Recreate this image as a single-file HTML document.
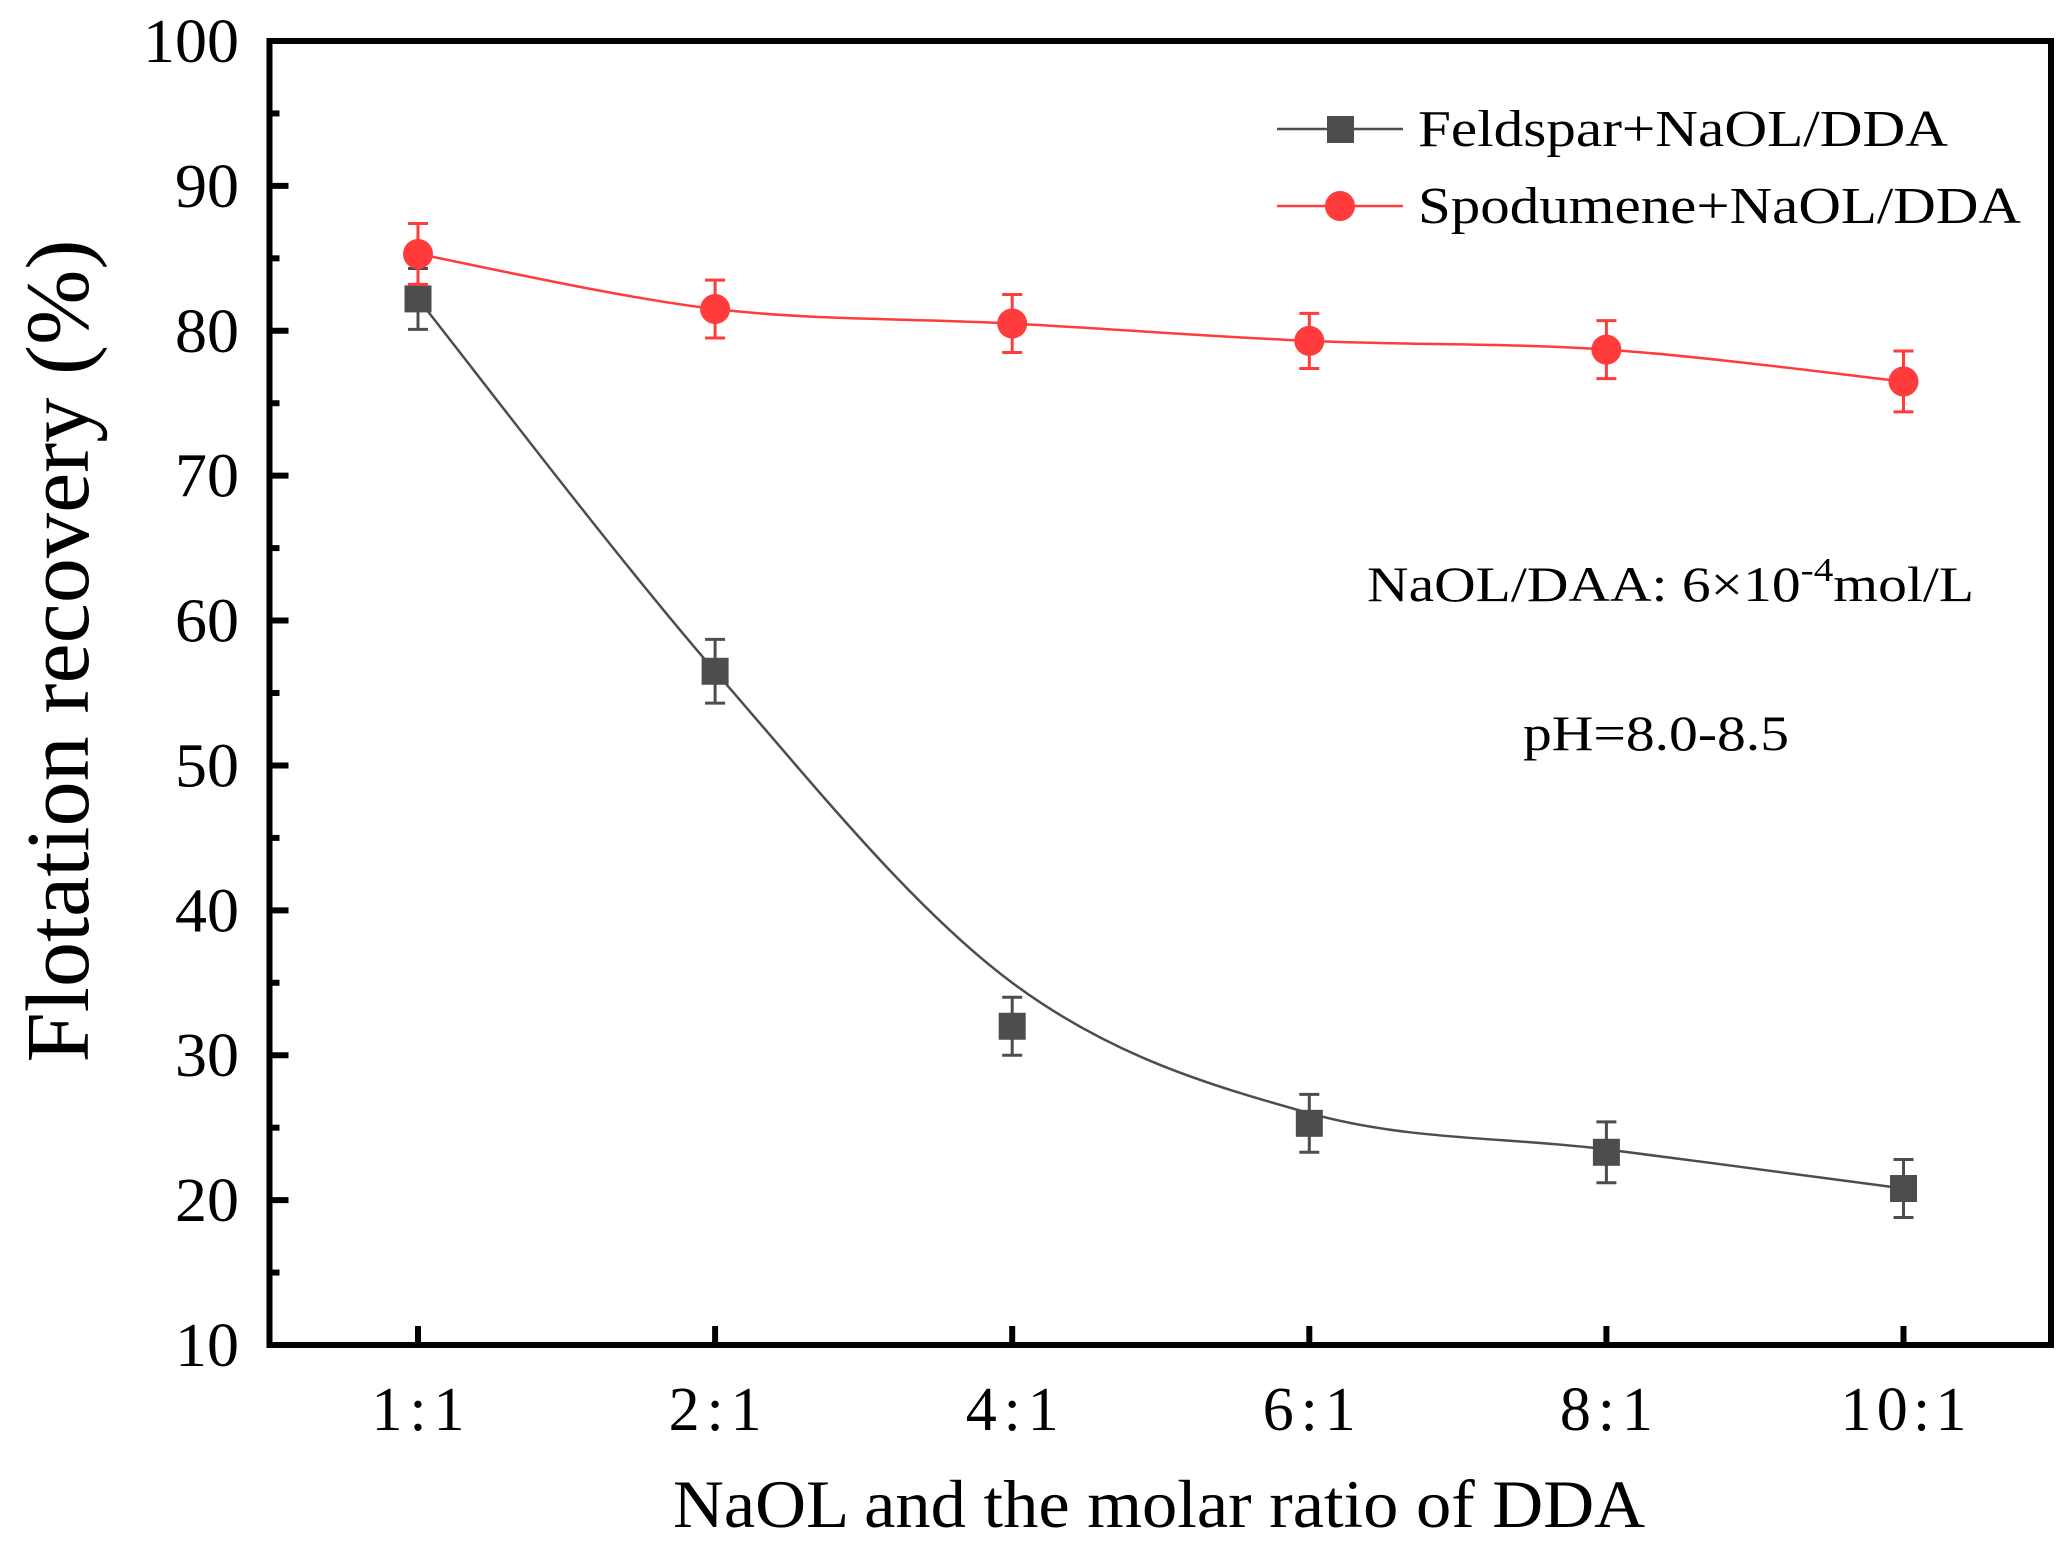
<!DOCTYPE html>
<html><head><meta charset="utf-8"><style>
html,body{margin:0;padding:0;background:#fff}
svg{display:block}
text{font-family:"Liberation Serif",serif;fill:#000}
</style></head><body>
<svg id="chart" width="2071" height="1561" viewBox="0 0 2071 1561" xmlns="http://www.w3.org/2000/svg">
<g id="axes"></g>
<g id="series"></g>
<g>
  <line x1="1277" y1="129" x2="1403" y2="129" stroke="#4d4d4d" stroke-width="2.5"/>
  <rect x="1327" y="116" width="27" height="27" fill="#4d4d4d"/>
  <text x="1418" y="146" font-size="52" textLength="530" lengthAdjust="spacingAndGlyphs">Feldspar+NaOL/DDA</text>
  <line x1="1277" y1="206" x2="1403" y2="206" stroke="#ff3b3b" stroke-width="2.5"/>
  <circle cx="1340" cy="206" r="15" fill="#ff3b3b"/>
  <text x="1418" y="223" font-size="52" textLength="603" lengthAdjust="spacingAndGlyphs">Spodumene+NaOL/DDA</text>
</g>
<text x="1367" y="601" font-size="50" textLength="607" lengthAdjust="spacingAndGlyphs">NaOL/DAA: 6×10<tspan dy="-20" font-size="34">-4</tspan><tspan dy="20">mol/L</tspan></text>
<text x="1523" y="750" font-size="50" textLength="266" lengthAdjust="spacingAndGlyphs">pH=8.0-8.5</text>
<text x="1159" y="1527" font-size="68" text-anchor="middle" textLength="972" lengthAdjust="spacingAndGlyphs">NaOL and the molar ratio of DDA</text>
<text transform="translate(88,651) rotate(-90)" font-size="90" text-anchor="middle" textLength="823" lengthAdjust="spacingAndGlyphs">Flotation recovery (%)</text>
</svg>
<script>
const categories = ["1:1","2:1","4:1","6:1","8:1","10:1"];
const feldsparValues = [82.2, 56.5, 32.0, 25.3, 23.3, 20.8];
const feldsparErrors = [2.1, 2.2, 2.0, 2.0, 2.1, 2.0];
const feldsparFit = [82.2, 56.5, 35.0, 26.0, 23.5, 20.8];
const spodumeneValues = [85.3, 81.5, 80.5, 79.3, 78.7, 76.5];
const spodumeneErrors = [2.1, 2.0, 2.0, 1.9, 2.0, 2.1];
const yTicks = [10,20,30,40,50,60,70,80,90,100];
const yTickLabels = ["10","20","30","40","50","60","70","80","90","100"];

const NS="http://www.w3.org/2000/svg";
const L=269.5,R=2051,T=41,B=1345;
const x0=418, dx=297.1;
function xPos(i){return x0+i*dx;}
function yPos(v){return B-(v-10)/90*(B-T);}
function mk(tag,attrs,parent){const e=document.createElementNS(NS,tag);for(const k in attrs)e.setAttribute(k,attrs[k]);parent.appendChild(e);return e;}

const axes=document.getElementById('axes');
let fr=mk('rect',{x:L,y:T,width:R-L,height:B-T,fill:'none',stroke:'#000','stroke-width':6},axes);


yTicks.forEach((v,i)=>{
  const y=yPos(v);
  if(v>10&&v<100){
    const t=mk('line',{x1:L,x2:L+19,y1:y,y2:y,stroke:'#000','stroke-width':6},axes);
    
    
  }
  if(v<100){
    const m=mk('line',{x1:L,x2:L+10,y1:y-(B-T)/18,y2:y-(B-T)/18,stroke:'#000','stroke-width':6},axes);
    
    
  }
  const lab=mk('text',{x:239,y:y+21,'font-size':62,'text-anchor':'end',textLength:yTickLabels[i].length*32,lengthAdjust:'spacingAndGlyphs'},axes);
  lab.textContent=yTickLabels[i];
  
  
});
categories.forEach((c,i)=>{
  const x=xPos(i);
  const t=mk('line',{x1:x,x2:x,y1:B,y2:B-19,stroke:'#000','stroke-width':6},axes);
  
  
  const lab=mk('text',{x:x,y:1430,'font-size':62,'text-anchor':'middle',textLength:c.length===3?93:126,lengthAdjust:'spacing'},axes);
  lab.textContent=c;
  
  
});

function smoothPath(vals){
  const p=vals.map((v,i)=>[xPos(i),yPos(v)]);
  let d=`M${p[0][0]},${p[0][1]}`;
  for(let i=0;i<p.length-1;i++){
    const p0=p[Math.max(0,i-1)],p1=p[i],p2=p[i+1],p3=p[Math.min(p.length-1,i+2)];
    const c1=[p1[0]+(p2[0]-p0[0])/6,p1[1]+(p2[1]-p0[1])/6];
    const c2=[p2[0]-(p3[0]-p1[0])/6,p2[1]-(p3[1]-p1[1])/6];
    d+=` C${c1[0]},${c1[1]} ${c2[0]},${c2[1]} ${p2[0]},${p2[1]}`;
  }
  return d;
}
const sg=document.getElementById('series');
function drawSeries(name,vals,errs,fit,color,shape){
  const g=mk('g',{},sg);
  
  
  const path=mk('path',{d:smoothPath(fit),fill:'none',stroke:color,'stroke-width':2.5},g);
  
  
  vals.forEach((v,i)=>{
    const x=xPos(i),y=yPos(v),yt=yPos(v+errs[i]),yb=yPos(v-errs[i]);
    const eb=mk('path',{d:`M${x},${yt}V${yb}M${x-10},${yt}H${x+10}M${x-10},${yb}H${x+10}`,stroke:color,'stroke-width':3,fill:'none'},g);
    
    
    let m;
    if(shape==='square') m=mk('rect',{x:x-13.5,y:y-13.5,width:27,height:27,fill:color},g);
    else m=mk('circle',{cx:x,cy:y,r:15,fill:color},g);
    
    
  });
}
drawSeries('feldspar',feldsparValues,feldsparErrors,feldsparFit,'#4d4d4d','square');
drawSeries('spodumene',spodumeneValues,spodumeneErrors,spodumeneValues,'#ff3b3b','circle');
</script>
</body></html>
